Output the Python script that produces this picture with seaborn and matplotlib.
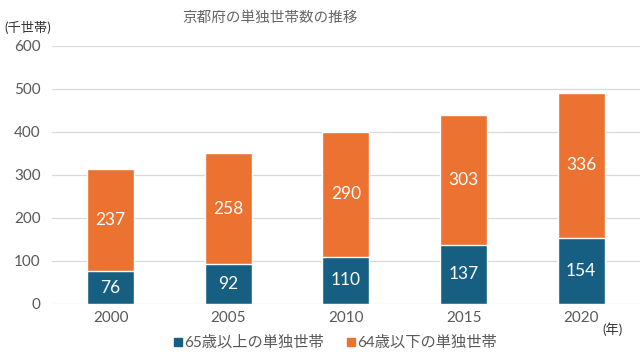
import matplotlib
matplotlib.use("Agg")
import matplotlib.pyplot as plt
import seaborn as sns
import pandas as pd
from matplotlib.lines import Line2D

years = ["2000", "2005", "2010", "2015", "2020"]
senior = [76, 92, 110, 137, 154]
younger = [237, 258, 290, 303, 336]
series_names = ["65歳以上の単独世帯", "64歳以下の単独世帯"]
title = "京都府の単独世帯数の推移"
y_unit = "(千世帯)"
x_unit = "(年)"

BLUE = "#165f83"
ORANGE = "#eb7231"
GRAY = "#595959"

sns.set_theme(style="white")
plt.rcParams["font.family"] = ["Lato", "Noto Sans CJK JP", "DejaVu Sans"]

df = pd.DataFrame({"year": years, "senior": senior, "younger": younger})
df["total"] = df["senior"] + df["younger"]

fig = plt.figure(figsize=(6.4, 3.64), dpi=100)
ax = fig.add_axes([0.081, 0.165, 0.919, 0.709])

sns.barplot(data=df, x="year", y="total", color=ORANGE, width=0.4, ax=ax,
            saturation=1, zorder=3)
sns.barplot(data=df, x="year", y="senior", color=BLUE, width=0.4, ax=ax,
            saturation=1, zorder=3)

for i, (s, y) in enumerate(zip(senior, younger)):
    ax.text(i, s / 2, str(s), ha="center", va="center", color="white",
            fontsize=12.5, zorder=4)
    ax.text(i, s + y / 2, str(y), ha="center", va="center", color="white",
            fontsize=12.5, zorder=4)

ax.set_ylim(0, 600)
ax.set_yticks(range(0, 601, 100))
ax.set_xlim(-0.5, 4.5)
ax.grid(axis="y", color="#d9d9d9", linewidth=0.9, zorder=0)
ax.set_axisbelow(True)
for sp in ax.spines.values():
    sp.set_visible(False)
ax.set_xlabel("")
ax.set_ylabel("")
ax.tick_params(axis="both", length=0, labelsize=11, labelcolor=GRAY, pad=5)
ax.tick_params(axis="y", pad=8)

fig.text(270 / 640, 1 - 18 / 364, title, ha="center", va="center",
         fontsize=10.5, color="#666666")
fig.text(4 / 640, 1 - 27 / 364, y_unit, ha="left", va="center",
         fontsize=9.5, color="#333333")
fig.text(602 / 640, 1 - 329 / 364, x_unit, ha="left", va="center",
         fontsize=9.5, color="#333333")

handles = [Line2D([], [], marker="s", linestyle="", color=BLUE, markersize=6),
           Line2D([], [], marker="s", linestyle="", color=ORANGE, markersize=6)]
fig.legend(handles, series_names, loc="center", bbox_to_anchor=(335 / 640, 1 - 343 / 364),
           ncol=2, frameon=False, fontsize=11, labelcolor=GRAY,
           handletextpad=0.05, columnspacing=1.4, handlelength=0.7)

fig.savefig("out.png", dpi=100)
